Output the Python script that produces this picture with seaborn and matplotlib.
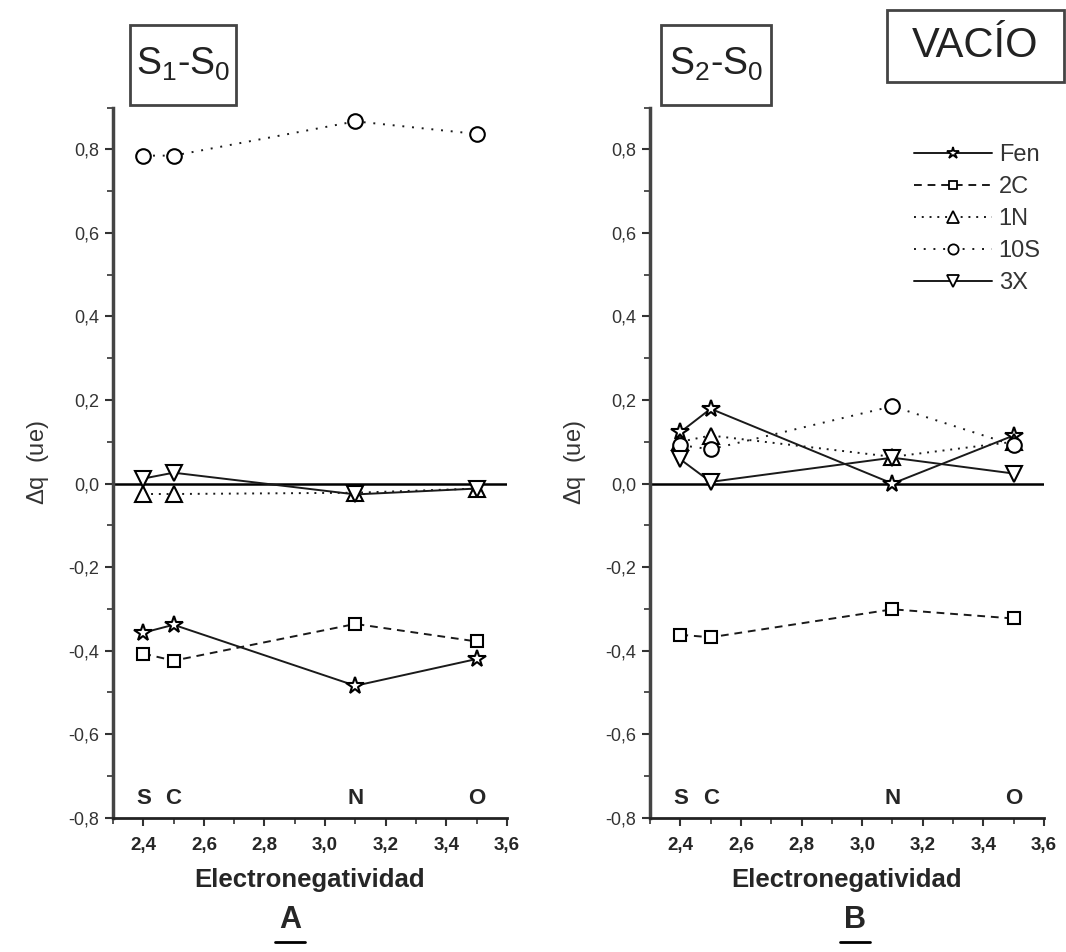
import numpy as np
import pandas as pd
import matplotlib
matplotlib.use("Agg")
import matplotlib.pyplot as plt
import matplotlib.font_manager as fm
from matplotlib.lines import Line2D
from matplotlib.patches import Rectangle
from matplotlib.ticker import MultipleLocator, FuncFormatter
import seaborn as sns

# Electronegativity of the substituent atom (S, C, N, O)
electroneg = [2.4, 2.5, 3.1, 3.5]
atomos = ['S', 'C', 'N', 'O']

# Panel A: S1-S0
a_fen = [-0.357, -0.338, -0.484, -0.420]
a_2c = [-0.407, -0.424, -0.336, -0.378]
a_1n = [-0.025, -0.025, -0.022, -0.012]
a_10s = [0.785, 0.785, 0.867, 0.837]
a_3x = [0.012, 0.026, -0.026, -0.012]

# Panel B: S2-S0
b_fen = [0.123, 0.179, 0.000, 0.115]
b_2c = [-0.362, -0.368, -0.301, -0.323]
b_1n = [0.100, 0.115, 0.064, 0.100]
b_10s = [0.092, 0.082, 0.185, 0.092]
b_3x = [0.058, 0.004, 0.062, 0.024]

series = ['Fen', '2C', '1N', '10S', '3X']

rows = []
for panel, vals in [('A', [a_fen, a_2c, a_1n, a_10s, a_3x]),
                    ('B', [b_fen, b_2c, b_1n, b_10s, b_3x])]:
    for name, ys in zip(series, vals):
        for x, y in zip(electroneg, ys):
            rows.append({'panel': panel, 'serie': name, 'en': x, 'dq': y})
df = pd.DataFrame(rows)

sns.set_style("ticks")
names = {f.name for f in fm.fontManager.ttflist}
narrow = 'Liberation Sans Narrow' if 'Liberation Sans Narrow' in names else 'Liberation Sans'
plt.rcParams['font.family'] = ['Liberation Sans', 'DejaVu Sans']
plt.rcParams['mathtext.fontset'] = 'custom'
plt.rcParams['mathtext.rm'] = 'Liberation Sans'
plt.rcParams['mathtext.it'] = 'Liberation Sans'

estilos = {
    'Fen': dict(marker='*', ls='-', ms=13),
    '2C': dict(marker='s', ls=(0, (4, 3)), ms=9),
    '1N': dict(marker='^', ls=(0, (1, 3)), ms=12),
    '10S': dict(marker='o', ls=(0, (1, 4)), ms=10.5),
    '3X': dict(marker='v', ls='-', ms=12),
}
color = '#1a1a1a'


def coma_fmt(v, p):
    v = round(v, 1)
    if v == 0:
        v = 0.0
    return f"{abs(v):.1f}".replace('.', ',') if v == 0 else f"{v:.1f}".replace('.', ',')


fig = plt.figure(figsize=(10.66, 9.52), dpi=100)
ax_a = fig.add_axes([0.106, 0.141, 0.3695, 0.746])
ax_b = fig.add_axes([0.6098, 0.141, 0.3695, 0.746])

coma = FuncFormatter(coma_fmt)

for ax, panel in [(ax_a, 'A'), (ax_b, 'B')]:
    ax.axhline(0, color='black', lw=1.8, zorder=1)
    sub = df[df['panel'] == panel]
    for name in series:
        st = estilos[name]
        sns.lineplot(data=sub[sub['serie'] == name], x='en', y='dq', ax=ax,
                     color=color, lw=1.4, linestyle=st['ls'], marker=st['marker'],
                     markersize=st['ms'], markerfacecolor='white',
                     markeredgecolor='black', markeredgewidth=1.5,
                     legend=False, zorder=3)
    ax.set_xlim(2.3, 3.6)
    ax.set_ylim(-0.8, 0.9)
    ax.xaxis.set_minor_locator(MultipleLocator(0.1))
    ax.yaxis.set_minor_locator(MultipleLocator(0.1))
    ax.set_xticks(np.arange(2.4, 3.61, 0.2))
    ax.set_yticks(np.arange(-0.8, 0.81, 0.2))
    ax.xaxis.set_major_formatter(coma)
    ax.yaxis.set_major_formatter(coma)
    ax.tick_params(which='major', length=6, width=1.5, color='#333')
    ax.tick_params(which='minor', length=4, width=1.2, color='#333')
    ax.tick_params(axis='y', labelsize=13, labelcolor='#333', pad=4)
    ax.tick_params(axis='x', labelsize=13.5, pad=8)
    for lab in ax.get_xticklabels():
        lab.set_family(narrow)
        lab.set_weight('bold')
    for s in ['top', 'right']:
        ax.spines[s].set_visible(False)
    ax.spines['left'].set_color('#444')
    ax.spines['left'].set_linewidth(2.5)
    ax.spines['bottom'].set_color('#222')
    ax.spines['bottom'].set_linewidth(2)
    ax.set_xlabel('Electronegatividad', fontsize=18.5, fontweight='bold',
                  family=narrow, labelpad=10)
    ax.set_ylabel(r'$\Delta$q  (ue)', fontsize=17, color='#333', labelpad=12)
    for x, t in zip(electroneg, atomos):
        ax.text(x, -0.755, t, ha='center', va='center', fontsize=16,
                fontweight='bold', family=narrow)

# title boxes
for (x0, y0, w, h), txt, fs in [((0.122, 0.890, 0.0994, 0.084), r'S$_1$-S$_0$', 27),
                                ((0.620, 0.890, 0.1030, 0.084), r'S$_2$-S$_0$', 27),
                                ((0.832, 0.914, 0.166, 0.0756), 'VACÍO', 30)]:
    fig.add_artist(Rectangle((x0, y0), w, h, transform=fig.transFigure,
                             fill=False, ec='#444', lw=2))
    fig.text(x0 + w / 2, y0 + h / 2, txt, ha='center', va='center',
             fontsize=fs, color='#222')

# panel letters, underlined
for xc, letra in [(0.272, 'A'), (0.802, 'B')]:
    fig.text(xc, 0.034, letra, ha='center', va='center', fontsize=22,
             fontweight='bold')
    fig.add_artist(Line2D([xc - 0.014, xc + 0.014], [0.010, 0.010],
                          transform=fig.transFigure, color='black', lw=2))

handles = [Line2D([], [], color=color, lw=1.4, linestyle=estilos[n]['ls'],
                  marker=estilos[n]['marker'], markersize=estilos[n]['ms'] * 0.7,
                  markerfacecolor='white', markeredgecolor='black',
                  markeredgewidth=1.3) for n in series]
fig.legend(handles, series, loc='upper left', bbox_to_anchor=(0.846, 0.861),
           frameon=False, fontsize=17, handlelength=3.3, handletextpad=0.3,
           labelspacing=0.42, borderpad=0, labelcolor='#333')

fig.savefig('out.png', dpi=100)
